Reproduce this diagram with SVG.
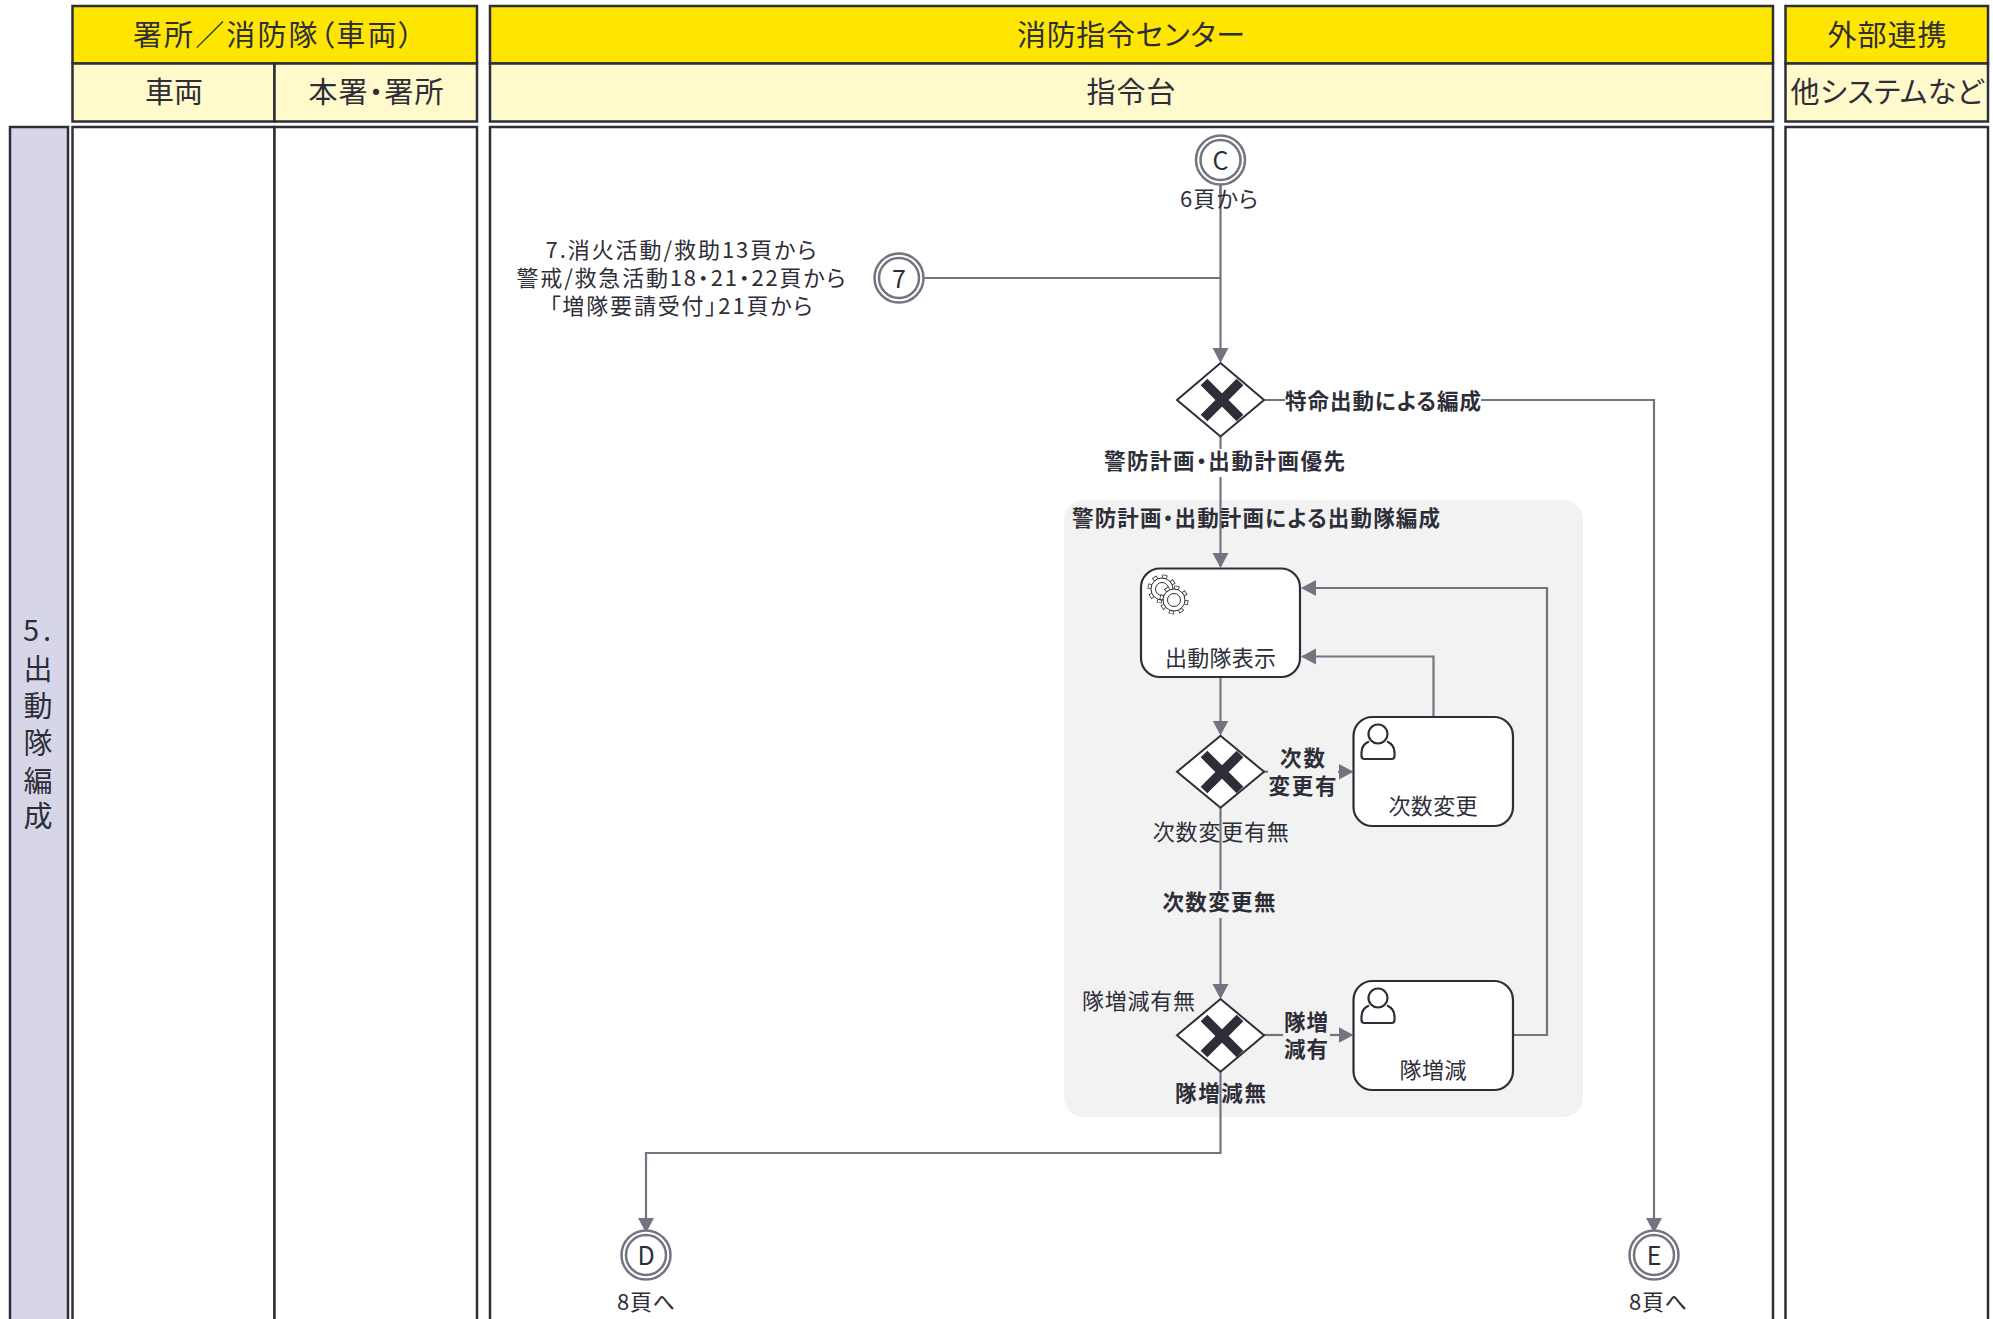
<svg xmlns="http://www.w3.org/2000/svg" width="1993" height="1319" viewBox="0 0 1993 1319">
<style>
text{font-family:"Noto Sans CJK JP","Noto Sans",sans-serif;fill:#2e2e38;text-anchor:middle;dominant-baseline:central;font-feature-settings:"palt";font-weight:400;transform:translateY(-1.5px)}
.h1{font-size:29px}.h2{font-size:29px}.side{font-size:29px}
.t{font-size:22px}.b{font-size:21.5px;font-weight:700}
.e{font-size:25px}
.l1{fill:#ffe600;stroke:#2e2e38;stroke-width:2.5}
.l2{fill:#fff9cc;stroke:#2e2e38;stroke-width:2.5}
.body{fill:#fff;stroke:#2e2e38;stroke-width:2.5}
.conn{fill:none;stroke:#747480;stroke-width:2.2}
.task{fill:#fff;stroke:#2e2e38;stroke-width:2.2}
.gw{fill:#fff;stroke:#2e2e38;stroke-width:2}
.x{fill:none;stroke:#2e2e38;stroke-width:9.5}
.ev{fill:#fff;stroke:#747480;stroke-width:2.5}
.icon{fill:none;stroke:#2e2e38;stroke-width:2.2}
</style>
<defs>
<marker id="arrow" markerUnits="userSpaceOnUse" markerWidth="18" markerHeight="18" refX="13" refY="9" orient="auto"><path d="M0 1L15 9L0 17Z" fill="#747480"/></marker>
<g id="gear">
<circle r="12.500" fill="none" stroke="#2e2e38" stroke-width="4" stroke-dasharray="4.9 4.9"/>
<circle r="12.500" fill="none" stroke="#fff" stroke-width="2.400" stroke-dasharray="3.4 6.4" stroke-dashoffset="-0.75"/>
<circle r="11" fill="#fff" stroke="#2e2e38" stroke-width="1"/>
<circle r="6.500" fill="#fff" stroke="#2e2e38" stroke-width="1"/>
</g>
<g id="user">
<circle cx="0" cy="0" r="9.500" class="icon"/>
<path class="icon" d="M-9 7.500C-14 9.500-16.500 13-16.500 18.500V22Q-16.500 25-13.500 25H13.500Q16.500 25 16.500 22V18.500C16.500 13 14 9.500 9 7.500"/>
</g>
<path id="xm" class="x" d="M-18-18L18 18M18-18L-18 18"/>
</defs>

<g id="lane-side">
<rect x="10" y="127" width="58" height="1230" fill="#d6d6e8" stroke="#2e2e38" stroke-width="2.5"/>
<text class="side"><tspan x="39" y="629" letter-spacing="4">5.</tspan><tspan x="38" y="668">出</tspan><tspan x="38" y="705">動</tspan><tspan x="38" y="742">隊</tspan><tspan x="38" y="780">編</tspan><tspan x="38" y="815">成</tspan></text>
</g>

<g id="lane-fire-station">
<rect class="l1" x="72.500" y="6" width="404.500" height="57.500"/>
<text class="h1" x="273" y="34" textLength="280">署所／消防隊（車両）</text>
<rect class="l2" x="72.500" y="63.500" width="202" height="58"/>
<rect class="l2" x="274.500" y="63.500" width="202.500" height="58"/>
<text class="h2" x="174" y="91" textLength="58">車両</text>
<text class="h2" x="376" y="91" textLength="135">本署・署所</text>
<rect class="body" x="72.500" y="127" width="202" height="1230"/>
<rect class="body" x="274.500" y="127" width="202.500" height="1230"/>
</g>

<g id="lane-center">
<rect class="l1" x="490" y="6" width="1283" height="57.500"/>
<text class="h1" x="1131" y="34" textLength="228">消防指令センター</text>
<rect class="l2" x="490" y="63.500" width="1283" height="58"/>
<text class="h2" x="1131" y="91" textLength="89">指令台</text>
<rect class="body" x="490" y="127" width="1283" height="1230"/>
</g>

<g id="lane-external">
<rect class="l1" x="1785.500" y="6" width="202.500" height="57.500"/>
<text class="h1" x="1887" y="34" textLength="119">外部連携</text>
<rect class="l2" x="1785.500" y="63.500" width="202.500" height="58"/>
<text class="h2" x="1887" y="91" textLength="193">他システムなど</text>
<rect class="body" x="1785.500" y="127" width="202.500" height="1230"/>
</g>

<g id="subprocess">
<rect x="1064" y="500" width="519" height="617" rx="20" fill="#f2f2f2"/>
</g>

<g id="connectors">
<path class="conn" marker-end="url(#arrow)" d="M1220.500 185V361"/>
<path class="conn" d="M924 278H1220.500"/>
<path class="conn" d="M1264 400H1285M1481 400H1654V1231" marker-end="url(#arrow)"/>
<path class="conn" d="M1220.500 436V449"/>
<path class="conn" marker-end="url(#arrow)" d="M1220.500 477V566"/>
<path class="conn" marker-end="url(#arrow)" d="M1220.500 677V733.500"/>
<path class="conn" d="M1264 771.700H1268"/>
<path class="conn" marker-end="url(#arrow)" d="M1338 771.700H1351.500"/>
<path class="conn" marker-end="url(#arrow)" d="M1433.500 717V656.500H1303"/>
<path class="conn" marker-end="url(#arrow)" d="M1513 1035H1547V588H1303"/>
<path class="conn" d="M1220.500 808V890"/>
<path class="conn" marker-end="url(#arrow)" d="M1220.500 918V997"/>
<path class="conn" d="M1264 1035H1283"/>
<path class="conn" marker-end="url(#arrow)" d="M1330 1035H1351.500"/>
<path class="conn" marker-end="url(#arrow)" d="M1220.500 1072V1153H646V1231"/>
</g>

<g id="event-c">
<circle class="ev" cx="1220.500" cy="160" r="24.500"/><circle class="ev" cx="1220.500" cy="160" r="20"/>
<path class="conn" d="M1220.500 185V205"/>
<text class="e" x="1220.500" y="160">C</text>
<text class="t" x="1219" y="198" textLength="78">6頁から</text>
</g>
<g id="event-7">
<circle class="ev" cx="899" cy="278" r="24.500"/><circle class="ev" cx="899" cy="278" r="20"/>
<text class="e" x="899" y="278">7</text>
<text class="t" x="681" y="249" textLength="271">7.消火活動/救助13頁から</text>
<text class="t" x="681" y="277" textLength="329">警戒/救急活動18・21・22頁から</text>
<text class="t" x="681" y="305" textLength="263">「増隊要請受付」21頁から</text>
</g>

<g id="gateway-1">
<path class="gw" d="M1220.500 363L1264 400L1220.500 436.500L1177 400Z"/>
<use href="#xm" x="1222" y="400"/>
</g>
<text class="b" x="1383" y="400.500" textLength="196">特命出動による編成</text>
<text class="b" x="1224.500" y="461" textLength="241">警防計画・出動計画優先</text>
<text class="b" x="1256" y="518" textLength="368">警防計画・出動計画による出動隊編成</text>

<g id="task-display">
<rect class="task" x="1141" y="568.500" width="159" height="108.500" rx="19"/>
<use href="#gear" x="1162" y="589"/>
<use href="#gear" x="1174" y="600"/>
<text class="t" x="1220.500" y="657" textLength="111">出動隊表示</text>
</g>

<g id="gateway-2">
<path class="gw" d="M1220.500 735.700L1264 771.700L1220.500 807.700L1177 771.700Z"/>
<use href="#xm" x="1222" y="772"/>
</g>
<text class="t" x="1220.800" y="831.500" textLength="136">次数変更有無</text>
<text class="b" x="1302.500" y="757.700" textLength="45">次数</text>
<text class="b" x="1302.500" y="786" textLength="68">変更有</text>
<text class="b" x="1219" y="902" textLength="113">次数変更無</text>

<g id="task-change">
<rect class="task" x="1353.500" y="717" width="159.500" height="109" rx="19"/>
<use href="#user" x="1378" y="734"/>
<text class="t" x="1433" y="805" textLength="89">次数変更</text>
</g>

<g id="gateway-3">
<path class="gw" d="M1220.500 999L1264 1035.300L1220.500 1071.700L1177 1035.300Z"/>
<use href="#xm" x="1222" y="1036"/>
</g>
<text class="t" x="1138.500" y="1000.700" textLength="113">隊増減有無</text>
<text class="b" x="1306" y="1021.700" textLength="44">隊増</text>
<text class="b" x="1306" y="1049" textLength="44">減有</text>
<text class="b" x="1220.500" y="1092.700" textLength="91">隊増減無</text>

<g id="task-adjust">
<rect class="task" x="1353.500" y="981" width="159.500" height="109" rx="19"/>
<use href="#user" x="1378" y="998"/>
<text class="t" x="1433" y="1069" textLength="67">隊増減</text>
</g>

<g id="event-d">
<circle class="ev" cx="646" cy="1255" r="24.500"/><circle class="ev" cx="646" cy="1255" r="20"/>
<text class="e" x="646" y="1255">D</text>
<text class="t" x="646" y="1301" textLength="58">8頁へ</text>
</g>
<g id="event-e">
<circle class="ev" cx="1654" cy="1255" r="24.500"/><circle class="ev" cx="1654" cy="1255" r="20"/>
<text class="e" x="1654" y="1255">E</text>
<text class="t" x="1658" y="1301" textLength="58">8頁へ</text>
</g>
</svg>
